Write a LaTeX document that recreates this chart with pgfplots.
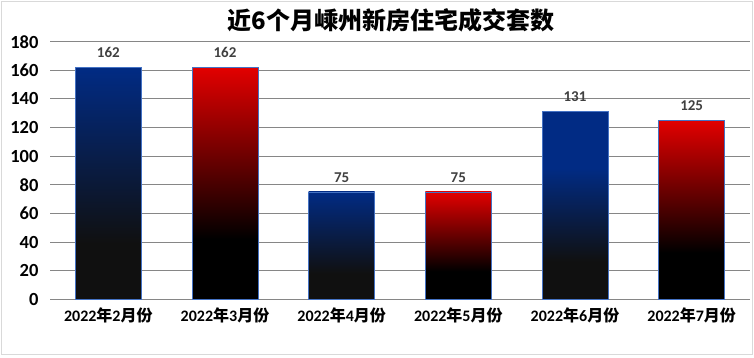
\documentclass[border=0pt]{standalone}
\usepackage{pgfplots}
\pgfplotsset{compat=1.18}
\usepackage{fontspec}
\setmainfont{Carlito}
\newfontfamily\cjk{Noto Sans CJK SC}
\definecolor{btop}{RGB}{1,43,132}
\definecolor{bbot}{RGB}{16,16,16}
\definecolor{rtop}{RGB}{226,0,0}
\definecolor{rbot}{RGB}{0,0,0}
\definecolor{edgec}{RGB}{68,114,196}
\definecolor{gridc}{RGB}{134,134,134}
\definecolor{lblc}{RGB}{64,64,64}
\pgfdeclareverticalshading{blueshade}{100bp}{color(0bp)=(bbot); color(25bp)=(bbot); color(37bp)=(bbot); color(75bp)=(btop); color(100bp)=(btop)}
\pgfdeclareverticalshading{blueshadeB}{100bp}{color(0bp)=(bbot); color(25bp)=(bbot); color(35bp)=(bbot); color(60bp)=(btop); color(100bp)=(btop)}
\pgfdeclareverticalshading{redshade}{100bp}{color(0bp)=(rbot); color(25bp)=(rbot); color(38bp)=(rbot); color(75bp)=(rtop); color(100bp)=(rtop)}
\newcommand{\xl}[1]{\textbf{2022}{\cjk\bfseries 年}\textbf{#1}{\cjk\bfseries 月份}}
\begin{document}
\begin{tikzpicture}
\useasboundingbox (-50pt,-57.7pt) rectangle (704pt,299.3pt);
\draw[color={rgb,255:red,217;green,217;blue,217}, line width=0.8pt] (-49pt,-55pt) rectangle (702pt,298.3pt);
\begin{axis}[
  at={(0pt,0pt)}, anchor=south west,
  scale only axis, width=700pt, height=257.6pt,
  ymin=0, ymax=180, xmin=-0.5, xmax=5.5,
  ytick={0,20,...,180},
  xtick={0,1,2,3,4,5},
  xticklabels={\xl{2},\xl{3},\xl{4},\xl{5},\xl{6},\xl{7}},
  axis y line*=left,
  y axis line style={draw=none},
  axis x line*=bottom,
  x axis line style={draw=gridc, line width=1pt, -},
  ymajorgrids, grid style={draw=gridc, line width=1pt},
  major tick length=0pt,
  yticklabel style={font=\fontsize{18.5}{20}\selectfont\bfseries, xshift=-8pt},
  xticklabel style={font=\fontsize{16}{18}\selectfont, yshift=-5pt},
  /pgf/number format/assume math mode=true,
  ybar, bar width=66pt,
  nodes near coords,
  nodes near coords style={font=\fontsize{15}{17}\selectfont\bfseries, text=lblc, anchor=south, yshift=6pt},
  clip=false,
]
\addplot[bar shift=0pt, draw=edgec, line width=0.8pt, shading=blueshade] coordinates {(0,162)};
\addplot[bar shift=0pt, draw=edgec, line width=0.8pt, shading=redshade] coordinates {(1,162)};
\addplot[bar shift=0pt, draw=edgec, line width=0.8pt, shading=blueshade] coordinates {(2,75)};
\addplot[bar shift=0pt, draw=edgec, line width=0.8pt, shading=redshade] coordinates {(3,75)};
\addplot[bar shift=0pt, draw=edgec, line width=0.8pt, shading=blueshadeB] coordinates {(4,131)};
\addplot[bar shift=0pt, draw=edgec, line width=0.8pt, shading=redshade] coordinates {(5,125)};
\end{axis}
\node[font=\cjk\fontsize{24}{28}\selectfont\bfseries] at (341pt,279pt) {近6个月嵊州新房住宅成交套数};
\end{tikzpicture}
\end{document}
